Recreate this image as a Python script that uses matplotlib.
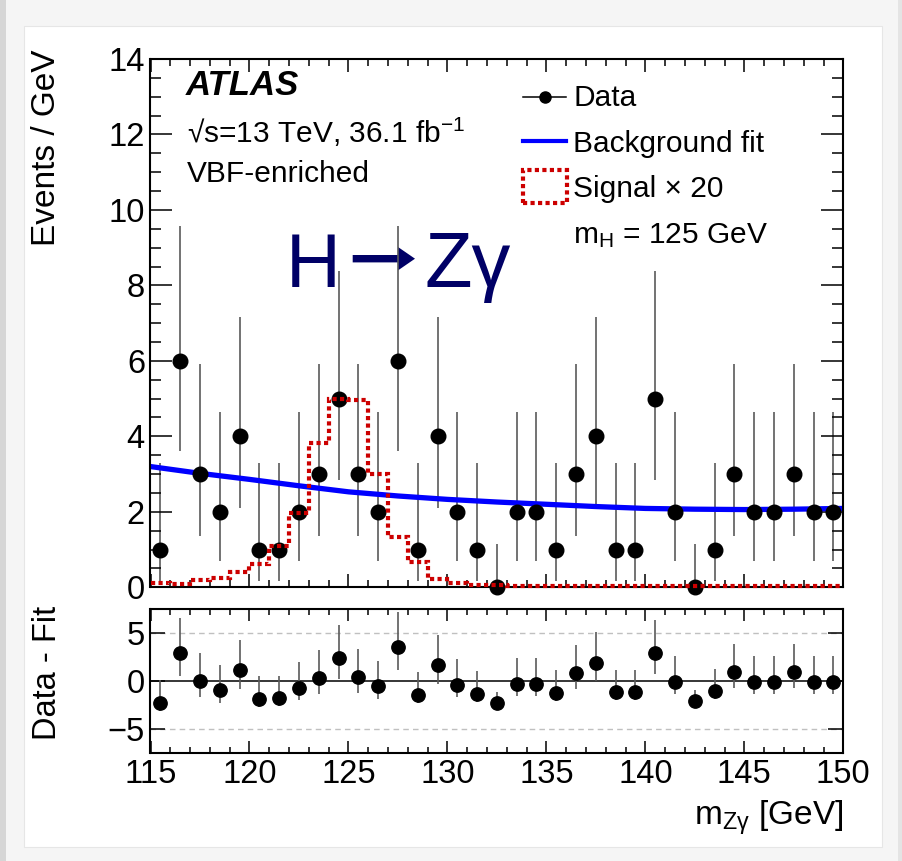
import numpy as np
import matplotlib.pyplot as plt
from matplotlib.patches import Rectangle, Polygon
from matplotlib.lines import Line2D
from matplotlib.ticker import MultipleLocator

plt.rcParams['font.family'] = ['Liberation Sans', 'DejaVu Sans']
plt.rcParams['mathtext.fontset'] = 'custom'
plt.rcParams['mathtext.rm'] = 'Liberation Sans'
plt.rcParams['mathtext.it'] = 'Liberation Sans:italic'
plt.rcParams['mathtext.bf'] = 'Liberation Sans:bold'

W, H = 903, 861

# --- data -----------------------------------------------------------------
mass_edges = np.arange(115, 151, 1.0)
mass = np.arange(115.5, 150, 1.0)

counts = [1, 6, 3, 2, 4, 1, 1, 2, 3, 5, 3, 2, 6, 1, 4, 2, 1, 0,
          2, 2, 1, 3, 4, 1, 1, 5, 2, 0, 1, 3, 2, 2, 3, 2, 2]

# asymmetric poisson errors, indexed by observed count
poisson_lo = [0.0, 0.83, 1.29, 1.63, 1.91, 2.16, 2.38]
poisson_hi = [1.15, 2.30, 2.64, 2.92, 3.16, 3.38, 3.58]

residuals = [-2.24, 2.90, -0.03, -0.96, 1.11, -1.82, -1.76, -0.72, 0.31,
             2.38, 0.41, -0.55, 3.52, -1.41, 1.63, -0.37, -1.31, -2.24,
             -0.27, -0.27, -1.20, 0.83, 1.86, -1.14, -1.14, 2.90, -0.10,
             -2.10, -1.07, 0.93, -0.10, -0.10, 0.93, -0.10, -0.10]

fit_mass = [115, 117.5, 120, 122.5, 125, 127.5, 130, 132.5,
            135, 137.5, 140, 142.5, 145, 147.5, 150]
fit_vals = [3.20, 3.02, 2.86, 2.69, 2.53, 2.42, 2.33, 2.26,
            2.20, 2.14, 2.09, 2.07, 2.06, 2.07, 2.09]

signal_x20 = [0.11, 0.09, 0.19, 0.25, 0.41, 0.61, 1.10, 1.98, 3.82,
              4.99, 4.96, 3.00, 1.34, 0.68, 0.23, 0.11, 0.07, 0.05,
              0.04, 0.04, 0.04, 0.04, 0.04, 0.04, 0.04, 0.04, 0.04,
              0.04, 0.04, 0.04, 0.04, 0.04, 0.04, 0.04, 0.04]

err_lo = [poisson_lo[n] for n in counts]
err_hi = [poisson_hi[n] for n in counts]

SIG_RED = '#cc0000'
NAVY = '#000066'
BAR_GREY = '#5a5a5a'
SIG_LS = (0, (1.0, 0.8))


def fx(px):
    return px / W


def fy(py):
    return 1 - py / H


fig = plt.figure(figsize=(W / 100, H / 100), dpi=100, facecolor='#f5f5f5')

# page-like background
fig.add_artist(Rectangle((fx(24), fy(847)), fx(882) - fx(24), fy(26) - fy(847),
                         transform=fig.transFigure, facecolor='white',
                         edgecolor='#e6e6e6', lw=0.8, zorder=-10))
fig.add_artist(Rectangle((0, 0), fx(6), 1, transform=fig.transFigure,
                         facecolor='#d6d6d6', edgecolor='none', zorder=-9))
fig.add_artist(Rectangle((fx(898), 0), fx(5), 1, transform=fig.transFigure,
                         facecolor='#e4e4e4', edgecolor='none', zorder=-9))

ax = fig.add_axes([fx(150.5), fy(587.3), fx(843.3) - fx(150.5), fy(59) - fy(587.3)])
ax2 = fig.add_axes([fx(150.5), fy(753), fx(843.3) - fx(150.5), fy(609) - fy(753)])

# --- main panel -----------------------------------------------------------
ax.errorbar(mass, counts, yerr=[err_lo, err_hi], fmt='none', ecolor=BAR_GREY,
            elinewidth=1.2, capsize=0, zorder=1)
ax.plot(fit_mass, fit_vals, color='#0000ff', lw=3.8, zorder=2)
ax.plot(mass, counts, 'o', color='black', ms=10.5, zorder=3, clip_on=False)
ax.stairs(signal_x20, mass_edges, baseline=None, color=SIG_RED, lw=3.0,
          linestyle=SIG_LS, zorder=4, clip_on=False)

ax.set_xlim(115, 150)
ax.set_ylim(0, 14)
ax.xaxis.set_major_locator(MultipleLocator(5))
ax.xaxis.set_minor_locator(MultipleLocator(1))
ax.yaxis.set_major_locator(MultipleLocator(2))
ax.yaxis.set_minor_locator(MultipleLocator(0.5))
ax.tick_params(axis='both', which='both', direction='in', top=True, right=True,
               width=1.1, labelsize=23.5)
ax.tick_params(axis='x', which='major', length=9.4, labelbottom=False)
ax.tick_params(axis='x', which='minor', length=4.7)
ax.tick_params(axis='y', which='major', length=16, pad=4)
ax.tick_params(axis='y', which='minor', length=8)
for sp in ax.spines.values():
    sp.set_linewidth(1.5)

# --- ratio panel ----------------------------------------------------------
ax2.axhline(5, color='#c0c0c0', lw=1.0, ls=(0, (4, 3)), zorder=0)
ax2.axhline(-5, color='#c0c0c0', lw=1.0, ls=(0, (4, 3)), zorder=0)
ax2.axhline(0, color='black', lw=1.1, zorder=1)
ax2.errorbar(mass, residuals, yerr=[err_lo, err_hi], fmt='none', ecolor=BAR_GREY,
             elinewidth=1.2, capsize=0, zorder=2)
ax2.plot(mass, residuals, 'o', color='black', ms=9.6, zorder=3)

ax2.set_xlim(115, 150)
ax2.set_ylim(-7.45, 7.45)
ax2.set_yticks([-5, 0, 5])
ax2.xaxis.set_major_locator(MultipleLocator(5))
ax2.xaxis.set_minor_locator(MultipleLocator(1))
ax2.tick_params(axis='both', which='both', direction='in', top=True, right=True,
                width=1.1, labelsize=23.5)
ax2.tick_params(axis='x', which='major', length=8.6, pad=4)
ax2.tick_params(axis='x', which='minor', length=4)
ax2.tick_params(axis='y', which='major', length=10.8, pad=4)
for sp in ax2.spines.values():
    sp.set_linewidth(1.5)

# --- axis titles ----------------------------------------------------------
fig.text(fx(47), fy(50), 'Events / GeV', rotation=90, ha='center', va='top',
         fontsize=24)
fig.text(fx(47), fy(673), 'Data - Fit', rotation=90, ha='center', va='center',
         fontsize=23.5)
fig.text(fx(843), fy(825), r'm$_{\mathrm{Z\gamma}}$ [GeV]', ha='right',
         va='baseline', fontsize=24)

# --- ATLAS labels ---------------------------------------------------------
fig.text(fx(186), fy(95), 'ATLAS', fontsize=25, fontweight='bold',
         fontstyle='italic', va='baseline')
fig.text(fx(187), fy(143), r'√s=13 TeV, 36.1 fb$^{-1}$',
         fontsize=21.5, va='baseline')
fig.text(fx(187), fy(182), 'VBF-enriched', fontsize=21.5, va='baseline')

# --- big process label, sits under the data -------------------------------
ax.text(fx(286), fy(286.7), 'H', transform=fig.transFigure, fontsize=54.7,
        color=NAVY, va='baseline', zorder=0.5)
ax.text(fx(424.5), fy(286.7), 'Zγ', transform=fig.transFigure, fontsize=56,
        color=NAVY, va='baseline', zorder=0.5)
arrow_px = [(352.7, 255.0), (398.0, 255.0), (398.0, 247.0), (415.0, 258.7),
            (398.0, 270.4), (398.0, 262.4), (352.7, 262.4)]
ax.add_patch(Polygon([(fx(a), fy(b)) for a, b in arrow_px], closed=True,
                     transform=fig.transFigure, facecolor=NAVY,
                     edgecolor='none', zorder=0.5, clip_on=False))

# --- legend ---------------------------------------------------------------
fig.add_artist(Line2D([fx(523), fx(566)], [fy(97), fy(97)], color='black',
                      lw=1.1, transform=fig.transFigure))
fig.add_artist(Line2D([fx(545)], [fy(97)], marker='o', color='black', ms=8,
                      transform=fig.transFigure))
fig.add_artist(Line2D([fx(523), fx(566)], [fy(141), fy(141)], color='#0000ff',
                      lw=3.0, transform=fig.transFigure))
fig.add_artist(Rectangle((fx(523), fy(203)), fx(567) - fx(523), fy(170) - fy(203),
                         transform=fig.transFigure, fill=False,
                         edgecolor=SIG_RED, lw=3.0, linestyle=SIG_LS))
leg_fs = 21.5
fig.text(fx(573), fy(106), 'Data', fontsize=leg_fs, va='baseline')
fig.text(fx(573), fy(152), 'Background fit', fontsize=leg_fs, va='baseline')
fig.text(fx(573), fy(197), 'Signal × 20', fontsize=leg_fs, va='baseline')
fig.text(fx(573), fy(243), r'm$_{\mathrm{H}}$ = 125 GeV', fontsize=leg_fs,
         va='baseline')

fig.savefig('out.png', dpi=100, facecolor=fig.get_facecolor())
